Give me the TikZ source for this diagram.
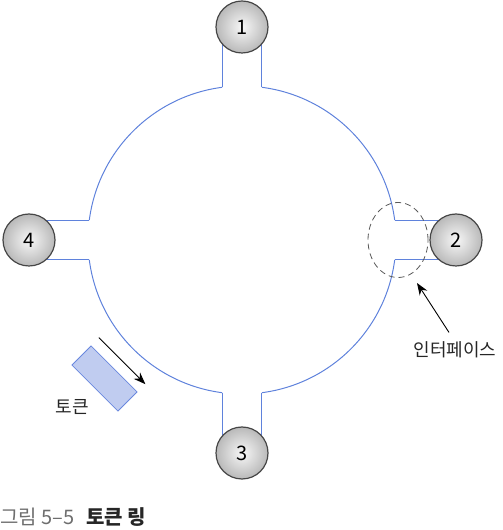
\documentclass[tikz,border=0pt]{standalone}
\usepackage{fontspec}
\usepackage{xcolor}
\usetikzlibrary{shapes.geometric, arrows.meta, positioning, calc, backgrounds}
\newfontfamily\krfont{Noto Sans CJK KR}
\definecolor{ringBlue}{RGB}{95, 130, 220}
\definecolor{tokenFill}{RGB}{192, 204, 240}
\definecolor{tokenDraw}{RGB}{105, 135, 222}
\definecolor{captionGray}{RGB}{110, 110, 110}

\begin{document}
\begin{tikzpicture}[x=0.5pt, y=0.5pt]
        \tikzstyle{station} = [circle, minimum size=26pt, inner sep=0pt, draw=gray!55!black, line width=0.6pt, inner color=gray!6, outer color=gray!55, font=\krfont\fontsize{10}{11}\selectfont]
        \tikzstyle{ring} = [ringBlue, line width=0.5pt]
        \tikzstyle{pointer} = [-{Stealth[length=6pt, width=4.5pt]}, black, line width=0.45pt]
        \tikzstyle{tag} = [inner sep=0pt, text=black!85, font=\krfont\fontsize{9}{10}\selectfont]
        
        \useasboundingbox (0,0) rectangle (503,530);
        
        % Ring
        \coordinate (center) at (242,290);
        \foreach \a in {0,90,180,270}
            \draw[ring] ($(center)+(\a+7.46:154)$) arc[start angle=\a+7.46, delta angle=75.08, radius=77pt];
        
        % Stations
        \node[station] (n1) at (242,503) {1};
        \node[station] (n2) at (456,290) {2};
        \node[station] (n3) at (242,77) {3};
        \node[station] (n4) at (29,290) {4};
        
        \begin{pgfonlayer}{background}
            \foreach \s/\a in {n1/90, n3/270}
                \foreach \d in {-7.46, 7.46}
                    \draw[ring] ($(center)+(\a+\d:154)$) coordinate (p) -- (p |- \s);
            \foreach \s/\a in {n2/0, n4/180}
                \foreach \d in {-7.46, 7.46}
                    \draw[ring] ($(center)+(\a+\d:154)$) coordinate (p) -- (p -| \s);
        \end{pgfonlayer}
        
        % Interface
        \node[ellipse, draw=gray!70!black, densely dashed, minimum width=30pt, minimum height=37.5pt, inner sep=0pt] (iface) at (398,290) {};
        \node[tag] (ifacelabel) at (455,180) {인터페이스};
        \coordinate (ifacetip) at (417,247);
        \draw[pointer] ([xshift=-3pt, yshift=4.5pt]ifacelabel.north) -- (ifacetip);
        
        % Token
        \node[draw=tokenDraw, fill=tokenFill, rotate=-45, minimum width=32.5pt, minimum height=13.5pt, inner sep=0pt] (token) at (104.5,151.5) {};
        \draw[pointer] ([shift={(45:5.5pt)}]token.north west) -- ([shift={(45:5.5pt)}]token.north east);
        \node[tag] (tokenlabel) at (72,123) {토큰};
        
        % Caption
        \node[tag, anchor=west, font=\krfont\fontsize{10}{11}\selectfont] (caption) at (0,13) {\textcolor{captionGray}{그림 5–5}\hspace{0.6em}\textbf{토큰 링}};
    \end{tikzpicture}
\end{document}
